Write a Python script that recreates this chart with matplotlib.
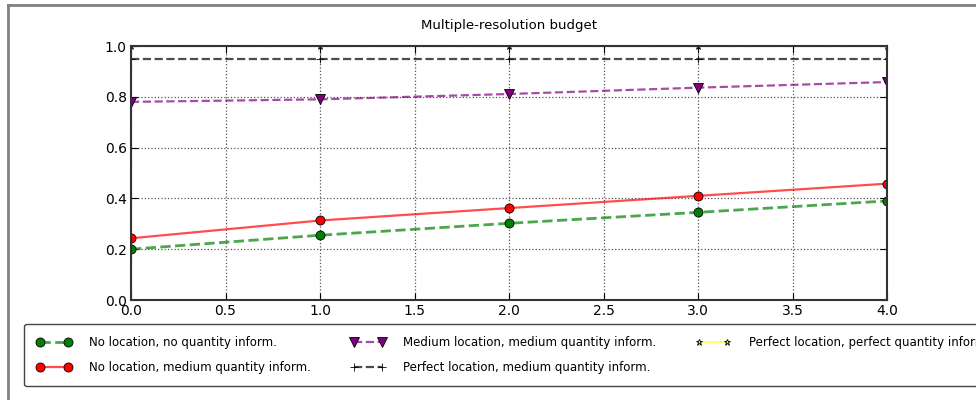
import matplotlib
matplotlib.use("Agg")
import matplotlib.pyplot as plt
from matplotlib.lines import Line2D

# values
x_vals = [0, 1, 2, 3, 4]
no_loc_no_qty = [0.200, 0.255, 0.302, 0.345, 0.390]
no_loc_med_qty = [0.243, 0.313, 0.362, 0.410, 0.458]
med_loc_med_qty = [0.780, 0.790, 0.811, 0.836, 0.858]
perf_loc_med_qty = [0.95, 0.95, 0.95, 0.95, 0.95]
perf_loc_perf_qty = [1.0, 1.0, 1.0, 1.0, 1.0]

labels = ["No location, no quantity inform.",
          "No location, medium quantity inform.",
          "Medium location, medium quantity inform.",
          "Perfect location, medium quantity inform.",
          "Perfect location, perfect quantity inform."]

plt.rcParams['font.family'] = ['DejaVu Sans']

fig = plt.figure(figsize=(9.76, 4.0), dpi=100)
ax = fig.add_axes([131 / 976, 100 / 400, 756 / 976, 254 / 400])


def series(y, ls, color, lw, marker, ms, mfc):
    ln, = ax.plot(x_vals, y, ls, color=color, lw=lw, alpha=0.7)
    mk, = ax.plot(x_vals, y, linestyle='none', marker=marker, ms=ms,
                  mfc=mfc, mec='k', mew=0.6)
    return (ln, mk)


h1 = series(no_loc_no_qty, '--', 'green', 2.0, 'o', 6.5, 'green')
h2 = series(no_loc_med_qty, '-', 'red', 1.6, 'o', 6.5, 'red')
h3 = series(med_loc_med_qty, '--', 'purple', 1.6, 'v', 6.5, 'purple')
h4 = series(perf_loc_med_qty, '--', 'black', 1.6, '+', 6, 'black')
h5 = series(perf_loc_perf_qty, '-', '#ffff00', 1.2, '*', 5, '#ffff00')

ax.set_xlim(0, 4)
ax.set_ylim(0, 1.0)
ax.set_xticks([0, 0.5, 1, 1.5, 2, 2.5, 3, 3.5, 4])
ax.set_xticklabels([f"{v:.1f}" for v in ax.get_xticks()])
ax.set_yticks([0, 0.2, 0.4, 0.6, 0.8, 1.0])
ax.set_yticklabels([f"{v:.1f}" for v in ax.get_yticks()])
ax.tick_params(direction='in', top=True, right=True, length=5,
               labelsize=10, pad=3)
ax.grid(True, linestyle=':', color='#555555', lw=0.9)
for sp in ax.spines.values():
    sp.set_linewidth(1.5)
    sp.set_color('#333333')

ax.set_title("Multiple-resolution budget", fontsize=9.5, pad=12)

ax.legend([h1, h2, h3, h4, h5], labels, ncol=3, loc='upper left',
          bbox_to_anchor=(-0.141, -0.094), borderaxespad=0,
          fontsize=8.5, numpoints=2, handlelength=3.0, handletextpad=1.5,
          columnspacing=3.3, labelspacing=1.05, borderpad=1.0,
          fancybox=True, framealpha=1, edgecolor='#444444')

# gray frame left and top, as in the screenshot
fx = 8 / 976
fy = 1 - 5 / 400
fig.add_artist(Line2D([fx, fx], [0, fy], color='#808080', lw=2,
                      transform=fig.transFigure))
fig.add_artist(Line2D([fx, 1], [fy, fy], color='#808080', lw=2,
                      transform=fig.transFigure))

fig.savefig("out.png", dpi=100)
